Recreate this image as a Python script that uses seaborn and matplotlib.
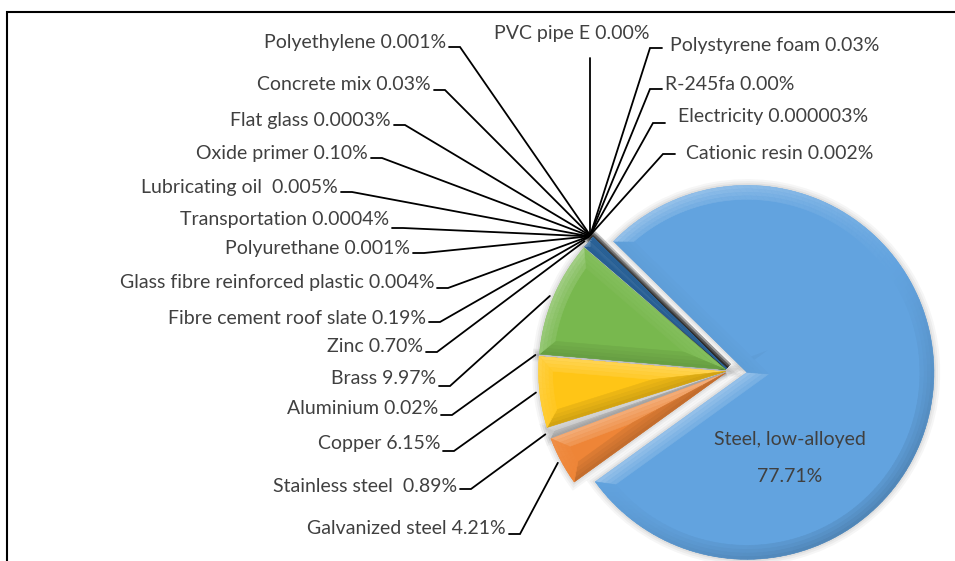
import numpy as np
import matplotlib
matplotlib.use("Agg")
import matplotlib.pyplot as plt
import matplotlib.colors as mcolors
import matplotlib.patheffects as pe
from matplotlib.patches import Polygon
import seaborn as sns

# data, in the order the slices run clockwise from the steel slice
materials = ["Steel, low-alloyed", "Galvanized steel", "Stainless steel ", "Copper",
             "Aluminium", "Brass", "Zinc", "Fibre cement roof slate",
             "Glass fibre reinforced plastic", "Polyurethane", "Transportation",
             "Lubricating oil ", "Oxide primer", "Flat glass", "Concrete mix",
             "Polyethylene", "PVC pipe E", "Polystyrene foam", "R-245fa",
             "Electricity", "Cationic resin"]
shares = [77.71, 4.21, 0.89, 6.15, 0.02, 9.97, 0.70, 0.19, 0.004, 0.001, 0.0004,
          0.005, 0.10, 0.0003, 0.03, 0.001, 0.001, 0.03, 0.001, 0.000003, 0.002]
share_text = ["77.71%", "4.21%", "0.89%", "6.15%", "0.02%", "9.97%", "0.70%", "0.19%",
              "0.004%", "0.001%", "0.0004%", "0.005%", "0.10%", "0.0003%", "0.03%",
              "0.001%", "0.00%", "0.03%", "0.00%", "0.000003%", "0.002%"]

# slice colours (the hair-thin slices after zinc all read as dark blue)
slice_colors = ["#62A3DF", "#EE8537", "#C4C4C4", "#FFC516", "#D0D0D0", "#78B84E",
                "#2A6399", "#2A6399", "#2A6399", "#2A6399", "#2A6399", "#2A6399",
                "#2A6399", "#2A6399", "#2A6399", "#2A6399", "#2A6399", "#2A6399",
                "#2A6399", "#2A6399", "#2A6399"]
colors = sns.color_palette(slice_colors)

# label layout in pixels: left labels (text right x, text y, elbow y)
left_pos = {
    "Polyethylene": (446, 42, 47), "Concrete mix": (431, 84, 90),
    "Flat glass": (391, 120, 125), "Oxide primer": (368, 153, 158),
    "Lubricating oil ": (338, 187, 192), "Transportation": (389, 219, 228),
    "Polyurethane": (410, 248, 253), "Glass fibre reinforced plastic": (434, 282, 288),
    "Fibre cement roof slate": (426, 318, 322), "Zinc": (423, 346, 352),
    "Brass": (436, 379, 386), "Aluminium": (438, 409, 415), "Copper": (440, 444, 451),
    "Stainless steel ": (457, 486, 489), "Galvanized steel": (506, 528, 534),
}
# right labels (elbow start x, elbow y, text left x, text y)
right_pos = {
    "Polystyrene foam": (650, 48, 670, 45), "R-245fa": (650, 89, 665, 84),
    "Electricity": (653, 123, 678, 116), "Cationic resin": (663, 154, 686, 153),
}

sns.set_theme(style="white")
plt.rcParams['font.family'] = ['Lato', 'DejaVu Sans']
txt_color = "#404040"
fs = 14

W, H = 955, 561
fig = plt.figure(figsize=(W / 100, H / 100), dpi=100)
ax = fig.add_axes([0, 0, 1, 1])

cx, cy, R = 729, H - 371, 187
# explode is in data units (pixels here)
explode = [18] + [3.5] * (len(shares) - 1)
shadow = [pe.Stroke(linewidth=9, foreground="k", alpha=0.035),
          pe.Stroke(linewidth=6, foreground="k", alpha=0.045),
          pe.Stroke(linewidth=3, foreground="k", alpha=0.06), pe.Normal()]
wedges, _ = ax.pie(shares, explode=explode, colors=colors, startangle=135.5,
                   counterclock=False, center=(cx, cy), radius=R,
                   wedgeprops=dict(linewidth=0, path_effects=shadow))
ax.set_xlim(0, W)
ax.set_ylim(0, H)
ax.set_aspect("equal")
ax.axis("off")

light = np.array([np.cos(np.radians(125)), np.sin(np.radians(125))])


def shade(c, n, g=1.0):
    c = np.array(mcolors.to_rgb(c))
    s = float(np.dot(n, light)) * g
    if s > 0:
        return tuple(c + (1 - c) * 0.32 * s)
    return tuple(c * (1 + 0.18 * s))


def bevel(w, base, d=14, steps=4):
    x0, y0 = w.center
    r = w.r
    t1, t2 = np.radians(w.theta1), np.radians(w.theta2)
    a = (t2 - t1) / 2
    if a < 1e-4:
        return
    m = (t1 + t2) / 2
    sa = np.sin(min(a, np.pi / 2))
    d = min(d, r * sa / (1 + sa) * 0.98)
    apex = np.array([x0, y0])
    u = lambda t, rr: apex + rr * np.array([np.cos(t), np.sin(t)])
    n1 = -np.array([-np.sin(t1), np.cos(t1)])
    n2 = -np.array([np.sin(t2), -np.cos(t2)])

    def ring(dd):
        # inset outline at distance dd from the wedge border
        ap = apex + dd / np.sin(a) * np.array([np.cos(m), np.sin(m)])
        s = np.sqrt((r - dd) ** 2 - dd ** 2)
        dl = np.arctan2(dd, s)
        i1, i2 = t1 + dl, t2 - dl
        if i1 > i2:
            i1 = i2 = m
        return ap, i1, i2, r - dd

    k = max(3, int(np.degrees(t2 - t1) / 2))
    levels = np.linspace(0, d, steps + 1)
    for j in range(steps):
        g = 1.0 - j / steps * 0.75
        apo, o1, o2, ro = ring(levels[j])
        api, q1, q2, ri = ring(levels[j + 1])
        faces = [([apo, u(o1, ro), u(q1, ri), api], n1),
                 ([apo, u(o2, ro), u(q2, ri), api], n2)]
        po = np.linspace(o1, o2, k + 1)
        pi_ = np.linspace(q1, q2, k + 1)
        for i in range(k):
            mid = (po[i] + po[i + 1]) / 2
            faces.append(([u(po[i], ro), u(po[i + 1], ro), u(pi_[i + 1], ri), u(pi_[i], ri)],
                          np.array([np.cos(mid), np.sin(mid)])))
        for pts, n in faces:
            c = shade(base, n, g)
            ax.add_patch(Polygon(np.array(pts), closed=True, facecolor=c, edgecolor=c,
                                 linewidth=0.4, zorder=3))


for w, c in zip(wedges, colors):
    bevel(w, c)


def anchor(w, f=1.0):
    t = np.radians((w.theta1 + w.theta2) / 2)
    x0, y0 = w.center
    return x0 + w.r * f * np.cos(t), y0 + w.r * f * np.sin(t)


line_kw = dict(color="black", lw=1.3, zorder=5, solid_joinstyle="miter")
for w, name, pct in zip(wedges, materials, share_text):
    ax_, ay_ = anchor(w, 1.02)
    if name in left_pos:
        tx, ty, sy = left_pos[name]
        ax.plot([tx + 3, tx + 14, ax_], [H - sy, H - sy, ay_], **line_kw)
        ax.text(tx, H - ty, f"{name} {pct}", ha="right", va="center",
                fontsize=fs, color=txt_color)
    elif name in right_pos:
        sx, sy, tx, ty = right_pos[name]
        ax.plot([ax_, sx, sx + 12], [ay_, H - sy, H - sy], **line_kw)
        ax.text(tx, H - ty, f"{name} {pct}", ha="left", va="center",
                fontsize=fs, color=txt_color)
    elif name == "PVC pipe E":
        ax.plot([ax_, ax_], [ay_, H - 58], **line_kw)
        ax.text(572, H - 33, f"{name} {pct}", ha="center", va="center",
                fontsize=fs, color=txt_color)
    else:
        ax.text(790, H - 439, name, ha="center", va="center", fontsize=fs,
                color=txt_color, zorder=6)
        ax.text(790, H - 477, pct, ha="center", va="center", fontsize=fs,
                color=txt_color, zorder=6)

# chart frame (left and top edges visible)
ax.plot([7, 7, W], [0, H - 12, H - 12], color="black", lw=1.5, zorder=6,
        solid_joinstyle="miter")

fig.savefig("out.png", dpi=100, facecolor="white")
